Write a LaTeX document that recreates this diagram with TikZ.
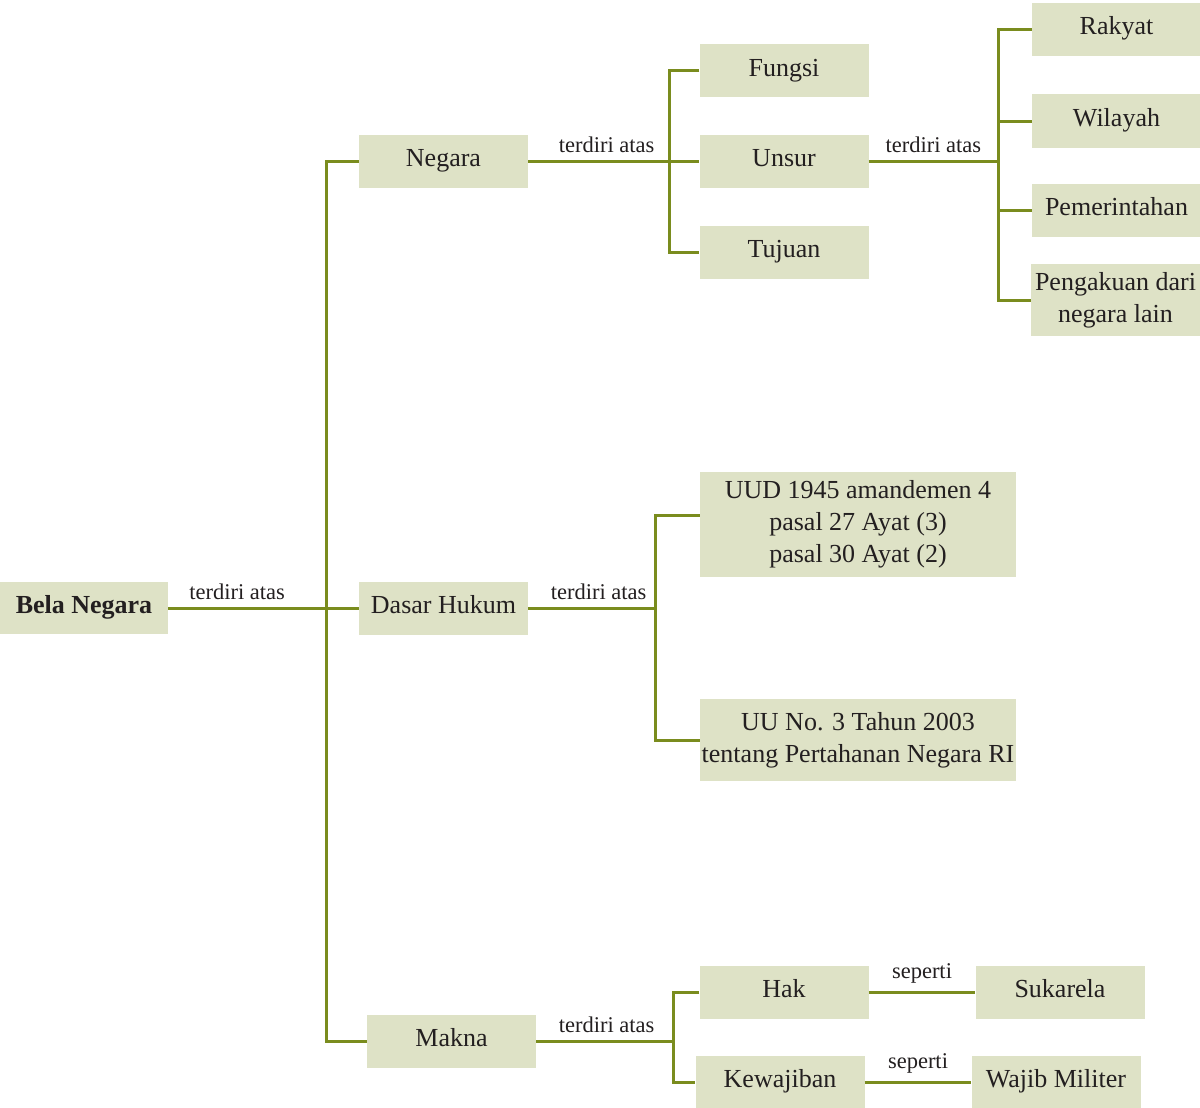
\documentclass[tikz,border=0pt]{standalone}
\usepackage{fontspec}
\setmainfont{Liberation Serif}
\usepackage{xcolor}
\usetikzlibrary{positioning}
\definecolor{boxfill}{RGB}{222, 226, 198}
\definecolor{olive}{RGB}{122, 140, 30}
\definecolor{ink}{RGB}{35, 31, 32}

\begin{document}
\begin{tikzpicture}[
    x=1pt, y=-1pt,
    box/.style={fill=boxfill, inner sep=0pt, minimum width=169pt, minimum height=53pt, align=center,
        text=ink, font=\fontsize{26}{32}\selectfont, text height=17pt, text depth=6pt},
    tallbox/.style={box, text height=, text depth=},
    link/.style={draw=olive, line width=3pt},
    lbl/.style={above, inner sep=7pt, text=ink, font=\fontsize{22.5}{24}\selectfont}
]
\useasboundingbox (0,0) rectangle (1200,1108);

% Root
\node[box, minimum width=168pt, minimum height=52pt, font=\fontsize{26}{32}\selectfont\bfseries] (bela) at (84,608) {Bela Negara};

% First level
\node[box] (negara) at (443.5,161) {Negara};
\node[box] (dasar) at (443.5,608) {Dasar Hukum};
\node[box] (makna) at (451.5,1041) {Makna};

% Negara branch
\node[box] (fungsi) at (784,71) {Fungsi};
\node[box] (unsur) at (784,161) {Unsur};
\node[box] (tujuan) at (784,252) {Tujuan};

% Unsur branch
\node[box] (rakyat) at (1116.5,29.5) {Rakyat};
\node[box] (wilayah) at (1116.5,121) {Wilayah};
\node[box] (pemerintahan) at (1116.5,210) {Pemerintahan};
\node[tallbox, minimum height=72pt] (pengakuan) at (1115.5,300) {Pengakuan dari\\negara lain};

% Dasar Hukum branch
\node[tallbox, minimum width=316pt, minimum height=105pt] (uud) at (858,524.5) {UUD 1945 amandemen 4\\pasal 27 Ayat (3)\\pasal 30 Ayat (2)};
\node[tallbox, minimum width=316pt, minimum height=82pt] (uu) at (858,740) {UU No. 3 Tahun 2003\\tentang Pertahanan Negara RI};

% Makna branch
\node[box] (hak) at (784,992) {Hak};
\node[box] (kewajiban) at (780,1082) {Kewajiban};
\node[box] (sukarela) at (1060,992) {Sukarela};
\node[box] (wajib) at (1056,1082) {Wajib Militer};

% Junctions
\coordinate (trunk) at (326,608);
\coordinate (jnegara) at (669,161);
\coordinate (junsur) at (998,161);
\coordinate (jdasar) at (655,608);
\coordinate (jmakna) at (673,1041);

% Connectors
\draw[link] (bela.east) -- node[lbl, xshift=-10pt]{terdiri atas} (trunk);
\draw[link] (negara.west) -| (trunk) |- (makna.west);
\draw[link] (trunk) -- (dasar.west);

\draw[link] (negara.east) -- node[lbl, xshift=8pt]{terdiri atas} (jnegara) -- (unsur.west);
\draw[link] (fungsi.west) -| (jnegara) |- (tujuan.west);

\draw[link] (unsur.east) -- node[lbl]{terdiri atas} (junsur);
\draw[link] (rakyat.west) -| (junsur) |- (pengakuan.west);
\draw[link] (wilayah.west) -| (junsur);
\draw[link] (pemerintahan.west) -| (junsur);

\draw[link] (dasar.east) -- node[lbl, xshift=7pt]{terdiri atas} (jdasar);
\draw[link] ([yshift=9pt]uud.west) -| (jdasar) |- (uu.west);

\draw[link] (makna.east) -- node[lbl, xshift=2pt]{terdiri atas} (jmakna);
\draw[link] (hak.west) -| (jmakna) |- (kewajiban.west);
\draw[link] (hak.east) -- node[lbl]{seperti} (sukarela.west);
\draw[link] (kewajiban.east) -- node[lbl]{seperti} (wajib.west);

\end{tikzpicture}
\end{document}
